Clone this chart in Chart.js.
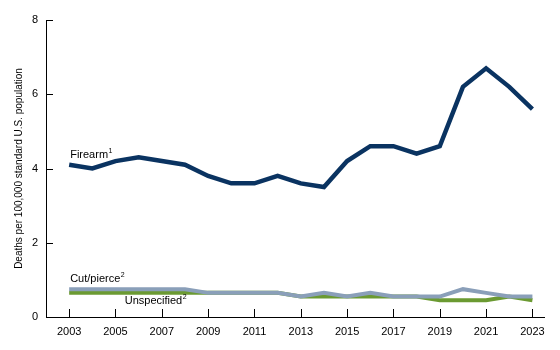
<!DOCTYPE html>
<html>
  <head>
    <meta charset="UTF-8" />
    <title>Homicide rates by mechanism</title>
    <style>
      body {
        margin: 0;
        padding: 0;
        background-color: #fff;
      }
      .chart-container {
        width: 560px;
        height: 350px;
        position: relative;
      }
    </style>
  </head>
  <body>
    <div class="chart-container">
      <canvas id="homicideChart"></canvas>
    </div>

    <script src="https://cdn.jsdelivr.net/npm/chart.js"></script>
    <script>
      const years = [2003, 2004, 2005, 2006, 2007, 2008, 2009, 2010, 2011, 2012, 2013,
        2014, 2015, 2016, 2017, 2018, 2019, 2020, 2021, 2022, 2023];
      const firearm = [4.1, 4.0, 4.2, 4.3, 4.2, 4.1, 3.8, 3.6, 3.6, 3.8, 3.6,
        3.5, 4.2, 4.6, 4.6, 4.4, 4.6, 6.2, 6.7, 6.2, 5.6];
      const cutPierce = [0.75, 0.75, 0.75, 0.75, 0.75, 0.75, 0.65, 0.65, 0.65, 0.65, 0.55,
        0.65, 0.55, 0.65, 0.55, 0.55, 0.55, 0.75, 0.65, 0.55, 0.55];
      const unspecified = [0.65, 0.65, 0.65, 0.65, 0.65, 0.65, 0.65, 0.65, 0.65, 0.65, 0.55,
        0.55, 0.55, 0.55, 0.55, 0.55, 0.45, 0.45, 0.45, 0.55, 0.45];
      const xTicks = [2003, 2005, 2007, 2009, 2011, 2013, 2015, 2017, 2019, 2021, 2023];
      const yTicks = [0, 2, 4, 6, 8];

      const FONT = "'Liberation Sans', Arial, sans-serif";

      function pts(values) {
        return values.map((v, i) => ({ x: years[i], y: v }));
      }

      // short tick marks drawn inside the plot, plus the series labels
      const innerTicks = {
        id: "innerTicks",
        afterDraw(chart) {
          const ctx = chart.ctx;
          const x = chart.scales.x;
          const y = chart.scales.y;
          ctx.save();
          ctx.strokeStyle = "#000";
          ctx.lineWidth = 1;
          ctx.beginPath();
          xTicks.forEach((t) => {
            const px = Math.round(x.getPixelForValue(t)) + 0.5;
            ctx.moveTo(px, y.bottom);
            ctx.lineTo(px, y.bottom - 8);
          });
          yTicks.forEach((t) => {
            const py = Math.round(y.getPixelForValue(t)) + 0.5;
            ctx.moveTo(x.left, py);
            ctx.lineTo(x.left + 7, py);
          });
          ctx.stroke();

          function label(text, sup, px, py) {
            ctx.fillStyle = "#000";
            ctx.textBaseline = "middle";
            ctx.textAlign = "left";
            ctx.font = "11px " + FONT;
            ctx.fillText(text, px, py);
            const w = ctx.measureText(text).width;
            ctx.font = "7px " + FONT;
            ctx.fillText(sup, px + w + 0.5, py - 4);
          }
          label("Firearm", "1", x.getPixelForValue(2003) + 1, y.getPixelForValue(firearm[0]) - 10);
          label("Cut/pierce", "2", x.getPixelForValue(2003) + 1, y.getPixelForValue(cutPierce[0]) - 10);
          label("Unspecified", "2", x.getPixelForValue(2005.4), y.getPixelForValue(unspecified[2]) + 8);
          ctx.restore();
        },
      };

      new Chart(document.getElementById("homicideChart"), {
        type: "line",
        data: {
          datasets: [
            {
              label: "Firearm",
              data: pts(firearm),
              borderColor: "#0a3361",
              borderWidth: 4.5,
              pointRadius: 0,
              borderJoinStyle: "miter",
            },
            {
              label: "Cut/pierce",
              data: pts(cutPierce),
              borderColor: "#8a9fb9",
              borderWidth: 4,
              pointRadius: 0,
              borderJoinStyle: "miter",
            },
            {
              label: "Unspecified",
              data: pts(unspecified),
              borderColor: "#6b9a32",
              borderWidth: 4,
              pointRadius: 0,
              borderJoinStyle: "miter",
            },
          ],
        },
        options: {
          responsive: true,
          maintainAspectRatio: false,
          animation: false,
          layout: { padding: { left: 0, top: 20, right: 16, bottom: 0 } },
          plugins: {
            legend: { display: false },
            tooltip: { enabled: false },
          },
          scales: {
            x: {
              type: "linear",
              min: 2002,
              max: 2023.5,
              afterBuildTicks: (scale) => {
                scale.ticks = xTicks.map((v) => ({ value: v }));
              },
              afterFit: (scale) => {
                scale.height = 33;
              },
              grid: { display: false, drawTicks: false },
              border: { display: true, color: "#000", width: 1 },
              ticks: {
                color: "#000",
                padding: 8,
                maxRotation: 0,
                autoSkip: false,
                font: { family: FONT, size: 11 },
                callback: (v) => String(v),
              },
            },
            y: {
              min: 0,
              max: 8,
              afterBuildTicks: (scale) => {
                scale.ticks = yTicks.map((v) => ({ value: v }));
              },
              afterFit: (scale) => {
                scale.width = 46;
              },
              grid: { display: false, drawTicks: false },
              border: { display: true, color: "#000", width: 1 },
              title: {
                display: true,
                text: "Deaths per 100,000 standard U.S. population",
                color: "#000",
                font: { family: FONT, size: 10 },
                padding: { top: 13, bottom: 0 },
              },
              ticks: {
                color: "#000",
                padding: 8,
                font: { family: FONT, size: 11 },
              },
            },
          },
        },
        plugins: [innerTicks],
      });
    </script>
  </body>
</html>
